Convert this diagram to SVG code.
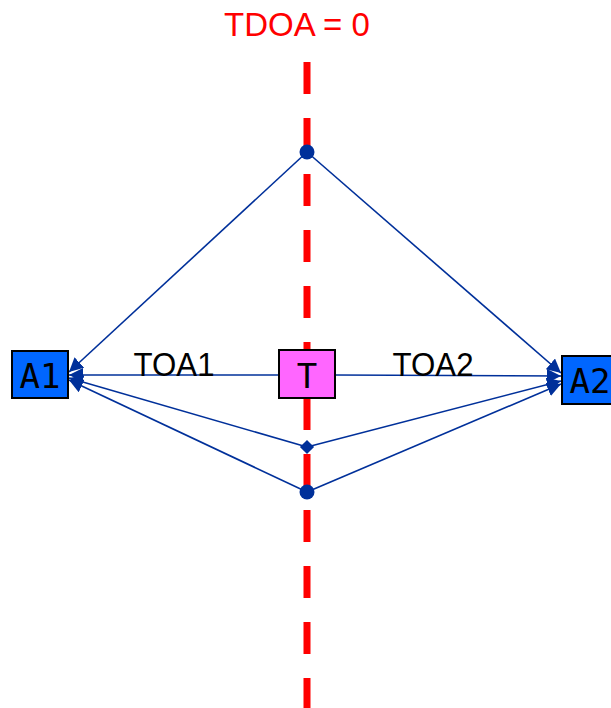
<svg xmlns="http://www.w3.org/2000/svg" width="611" height="708" viewBox="0 0 611 708">
<style>
.ln{stroke:#00309a;stroke-width:1.6;fill:none}
.box{stroke:#000;stroke-width:2}
.mono{font-family:"DejaVu Sans Mono",monospace;font-size:34px;fill:#000;text-anchor:middle}
.lbl{font-family:"Liberation Sans",Arial,sans-serif;font-size:33px;fill:#000;text-anchor:middle}
</style>
<defs>
<marker id="ah" viewBox="0 0 14 14" refX="14" refY="7" markerWidth="14" markerHeight="14" markerUnits="userSpaceOnUse" orient="auto">
<path d="M0,0 L14,7 L0,14 Z" fill="#00309a"/>
</marker>
</defs>
<rect width="611" height="708" fill="#fff"/>
<line x1="307" y1="62" x2="307" y2="708" stroke="#ff0000" stroke-width="7" stroke-dasharray="32 24"/>
<text x="297" y="36" font-family="Liberation Sans, Arial, sans-serif" font-size="33" fill="#ff0000" text-anchor="middle">TDOA = 0</text>
<g id="connectors">
<line class="ln" x1="307" y1="152" x2="69" y2="372" marker-end="url(#ah)"/>
<line class="ln" x1="279" y1="375" x2="69" y2="375" marker-end="url(#ah)"/>
<line class="ln" x1="307" y1="447" x2="69" y2="378" marker-end="url(#ah)"/>
<line class="ln" x1="307" y1="492" x2="69" y2="380" marker-end="url(#ah)"/>
<line class="ln" x1="307" y1="152" x2="561" y2="373" marker-end="url(#ah)"/>
<line class="ln" x1="335" y1="375" x2="561" y2="376" marker-end="url(#ah)"/>
<line class="ln" x1="307" y1="447" x2="561" y2="381" marker-end="url(#ah)"/>
<line class="ln" x1="307" y1="492" x2="561" y2="384" marker-end="url(#ah)"/>
<circle cx="307" cy="152" r="7.5" fill="#00309a"/>
<circle cx="307" cy="492" r="7.5" fill="#00309a"/>
<rect x="302" y="442" width="10" height="10" fill="#00309a" transform="rotate(45 307 447)"/>
</g>
<text class="lbl" x="174" y="376" textLength="81" lengthAdjust="spacingAndGlyphs">TOA1</text>
<text class="lbl" x="433" y="376" textLength="81" lengthAdjust="spacingAndGlyphs">TOA2</text>
<g id="A1">
<rect class="box" x="12" y="351" width="56" height="47" fill="#0066ff"/>
<text class="mono" x="40" y="388">A1</text>
</g>
<g id="T">
<rect class="box" x="279" y="350" width="56" height="48" fill="#ff66ff"/>
<text class="mono" x="307" y="388">T</text>
</g>
<g id="A2">
<rect class="box" x="562" y="356" width="56" height="48" fill="#0066ff"/>
<text class="mono" x="590" y="393">A2</text>
</g>
</svg>
